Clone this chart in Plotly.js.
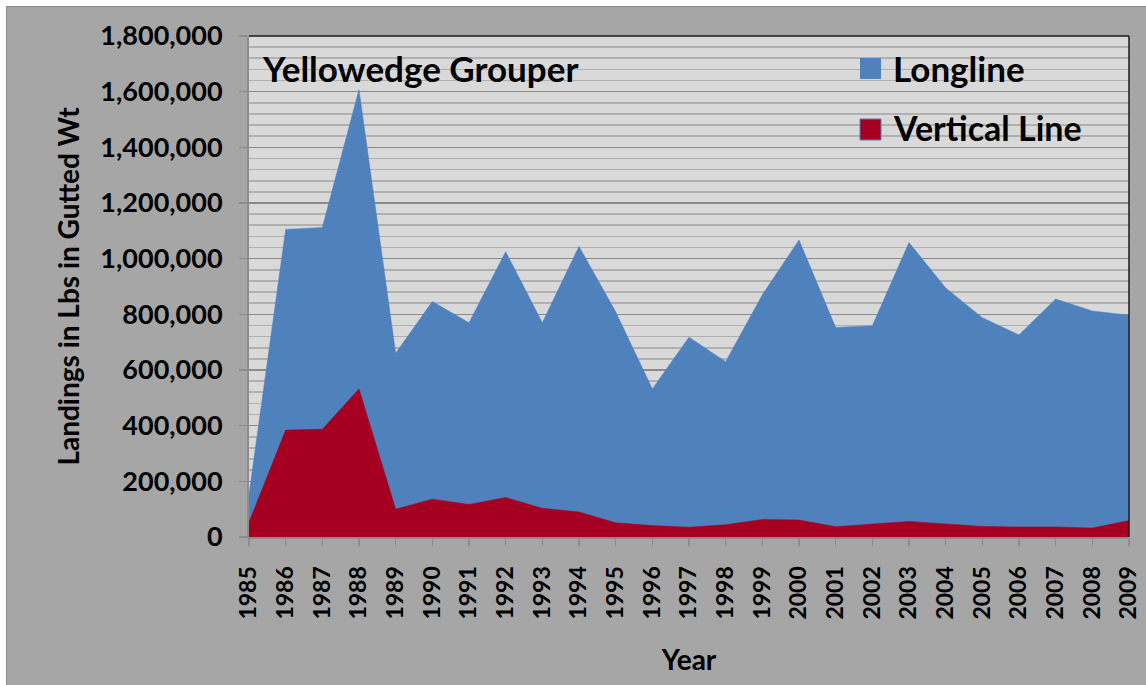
<!DOCTYPE html>
<html>
<head>
<meta charset="utf-8">
<script src="https://cdn.plot.ly/plotly-3.0.1.min.js"></script>
<style>
html,body{margin:0;padding:0;background:#ffffff;overflow:hidden;}
#chart{position:absolute;left:6px;top:6px;width:1140px;height:679px;border-left:1px solid #8c8c8c;border-top:1px solid #8c8c8c;}
</style>
</head>
<body>
<div id="chart"></div>
<script>
const years = [1985,1986,1987,1988,1989,1990,1991,1992,1993,1994,1995,1996,1997,1998,1999,2000,2001,2002,2003,2004,2005,2006,2007,2008,2009];
const yearLabels = years.map(String);
const longline = [152000,1105000,1112000,1608000,660000,846000,770000,1025000,770000,1044000,809000,532000,718000,630000,870000,1067000,753000,759000,1058000,895000,788000,726000,855000,812000,797000];
const verticalLine = [53000,384000,387000,532000,100000,136000,117000,142000,103000,90000,51000,41000,35000,44000,63000,61000,37000,47000,56000,47000,38000,36000,36000,32000,59000];
const yTickVals = [0,200000,400000,600000,800000,1000000,1200000,1400000,1600000,1800000];
const yTickText = ["0","200,000","400,000","600,000","800,000","1,000,000","1,200,000","1,400,000","1,600,000","1,800,000"];
const seriesNames = ["Longline","Vertical Line"];
const seriesColors = ["#4f81bd","#a50021"];
const chartTitle = "Yellowedge Grouper";
const xTitle = "Year";
const yTitle = "Landings in Lbs in Gutted Wt";

const FONT = "Lato, 'Open Sans', sans-serif";

const traces = [
  {x: years, y: longline, name: seriesNames[0], type: 'scatter', mode: 'lines',
   fill: 'tozeroy', fillcolor: seriesColors[0], line: {color: seriesColors[0], width: 0.5}, showlegend: false, hoverinfo: 'x+y'},
  {x: years, y: verticalLine, name: seriesNames[1], type: 'scatter', mode: 'lines',
   fill: 'tozeroy', fillcolor: seriesColors[1], line: {color: seriesColors[1], width: 0.5}, showlegend: false, hoverinfo: 'x+y'}
];

const px = v => (v - 249) / 880;   // pixel -> paper x helper for decorations
const py = v => (537 - v) / 501;   // pixel -> paper y helper for decorations

const layout = {
  width: 1139, height: 678,
  margin: {l: 242, r: 17, t: 29, b: 148, pad: 0},
  paper_bgcolor: '#a6a6a6',
  plot_bgcolor: '#d9d9d9',
  showlegend: false,
  font: {family: FONT, color: '#000000'},
  xaxis: {
    range: [1985, 2009], tickmode: 'array', tickvals: years, ticktext: yearLabels,
    tickangle: -90, ticks: 'outside', ticklen: 7, tickwidth: 1.5, tickcolor: '#8c8c8c',
    showline: true, linecolor: '#8c8c8c', linewidth: 2, showgrid: false, zeroline: false,
    tickfont: {family: FONT, size: 23, color: '#000', weight: 'bold'},
    ticklabelstandoff: 11,
    title: {text: xTitle, font: {family: FONT, size: 28, color: '#000', weight: 'bold'}, standoff: 32},
    automargin: false, fixedrange: true
  },
  yaxis: {
    range: [0, 1800000], tickmode: 'array', tickvals: yTickVals, ticktext: yTickText,
    ticks: 'outside', ticklen: 8, tickwidth: 1.5, tickcolor: '#8c8c8c',
    showline: true, linecolor: '#8c8c8c', linewidth: 2, zeroline: false,
    showgrid: true, gridcolor: '#8a8a8a', gridwidth: 1.6,
    minor: {tickmode: 'linear', tick0: 0, dtick: 40000, showgrid: true, gridcolor: '#b0b0b0', gridwidth: 1.6, ticks: ''},
    tickfont: {family: FONT, size: 27, color: '#000', weight: 'bold'},
    ticklabelstandoff: 11,
    title: {text: yTitle, font: {family: FONT, size: 28, color: '#000', weight: 'bold'}, standoff: 13},
    automargin: false, fixedrange: true
  },
  shapes: [
    {type: 'line', xref: 'paper', yref: 'paper', x0: 0, x1: 1, y0: 1, y1: 1, line: {color: '#1a1a1a', width: 1.5}},
    {type: 'line', xref: 'paper', yref: 'paper', x0: 1, x1: 1, y0: 0, y1: 1, line: {color: '#1a1a1a', width: 1.5}},
    {type: 'rect', xref: 'paper', yref: 'paper', x0: px(860), x1: px(881), y0: py(79), y1: py(58), fillcolor: seriesColors[0], line: {width: 0}},
    {type: 'rect', xref: 'paper', yref: 'paper', x0: px(860), x1: px(881), y0: py(140), y1: py(119), fillcolor: seriesColors[1], line: {color: '#4f81bd', width: 1}}
  ],
  annotations: [
    {text: chartTitle, xref: 'paper', yref: 'paper', x: px(260), y: py(68), xanchor: 'left', yanchor: 'middle', showarrow: false,
     font: {family: FONT, size: 35, color: '#000', weight: 'bold'}},
    {text: seriesNames[0], xref: 'paper', yref: 'paper', x: px(891), y: py(68), xanchor: 'left', yanchor: 'middle', showarrow: false,
     font: {family: FONT, size: 35, color: '#000', weight: 'bold'}},
    {text: seriesNames[1], xref: 'paper', yref: 'paper', x: px(891), y: py(128), xanchor: 'left', yanchor: 'middle', showarrow: false,
     font: {family: FONT, size: 34, color: '#000', weight: 'bold'}}
  ]
};

Plotly.newPlot('chart', traces, layout, {displayModeBar: false, staticPlot: true});
</script>
</body>
</html>
